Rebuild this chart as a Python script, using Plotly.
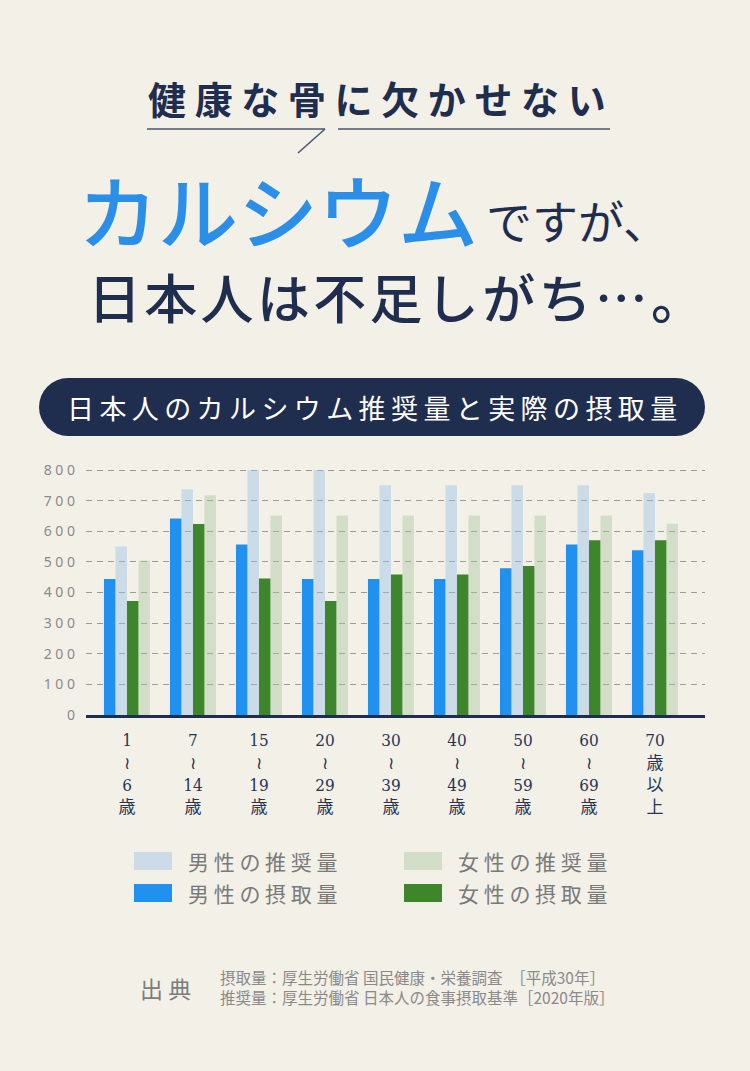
import plotly.graph_objects as go

# ---- data ----
age_groups = ["1<br>≀<br>6<br>歳", "7<br>≀<br>14<br>歳", "15<br>≀<br>19<br>歳",
              "20<br>≀<br>29<br>歳", "30<br>≀<br>39<br>歳", "40<br>≀<br>49<br>歳",
              "50<br>≀<br>59<br>歳", "60<br>≀<br>69<br>歳", "70<br>歳<br>以<br>上"]
male_intake = [444, 642, 557, 444, 444, 444, 479, 557, 538]
male_recommended = [550, 737.5, 800, 800, 750, 750, 750, 750, 725]
female_intake = [372, 624, 446, 372, 459, 459, 487, 571, 571]
female_recommended = [505, 718, 652, 652, 652, 652, 652, 652, 625]
ytick_vals = [0, 100, 200, 300, 400, 500, 600, 700, 800]

series_names = ["男性の摂取量", "男性の推奨量", "女性の摂取量", "女性の推奨量"]
series_colors = ["#2191f0", "rgba(148,192,232,0.42)", "#3e862c", "rgba(166,198,155,0.42)"]

NAVY = "#1f2d4e"
JP = "Noto Sans CJK JP"

# plot area in pixels
W, H = 750, 1071
L, R = 86, 705
TOP, BOT = 467, 715
PW, PH = R - L, BOT - TOP


def pxx(x):
    return (x - L) / PW


def pxy(y):
    return (BOT - y) / PH


def spaced(s, gap=" "):
    return gap.join(list(s))


fig = go.Figure()
for name, vals, col in zip(series_names,
                           [male_intake, male_recommended, female_intake, female_recommended],
                           series_colors):
    fig.add_trace(go.Bar(x=age_groups, y=vals, name=name,
                         marker=dict(color=col, line=dict(width=0)),
                         showlegend=False))

shapes = []
annotations = []

# headline
annotations.append(dict(x=pxx(377), y=pxy(97), text=spaced("健康な骨に欠かせない"),
                        font=dict(family=JP, size=38, color=NAVY, weight=700)))
line_style = dict(color="#48556e", width=1.5)
shapes.append(dict(type="line", xref="paper", yref="paper", x0=pxx(147), x1=pxx(325),
                   y0=pxy(129), y1=pxy(129), line=line_style))
shapes.append(dict(type="line", xref="paper", yref="paper", x0=pxx(325), x1=pxx(298),
                   y0=pxy(129), y1=pxy(153), line=line_style))
shapes.append(dict(type="line", xref="paper", yref="paper", x0=pxx(338), x1=pxx(610),
                   y0=pxy(129), y1=pxy(129), line=line_style))

annotations.append(dict(x=pxx(76), y=pxy(208), xanchor="left", text="カルシウム",
                        font=dict(family=JP, size=80, color="#2b8fe9", weight=500)))
annotations.append(dict(x=pxx(484), y=pxy(219), xanchor="left", text="ですが、",
                        font=dict(family=JP, size=46, color=NAVY)))
annotations.append(dict(x=pxx(86), y=pxy(296), xanchor="left",
                        text=spaced("日本人は不足しがち…。", "\u200a"),
                        font=dict(family=JP, size=53, color=NAVY, weight=500)))

# banner
shapes.append(dict(type="rect", xref="paper", yref="paper", x0=pxx(68), x1=pxx(676),
                   y0=pxy(378), y1=pxy(436), fillcolor=NAVY, line=dict(width=0)))
for cx in (68, 676):
    shapes.append(dict(type="circle", xref="paper", yref="paper", x0=pxx(cx - 29), x1=pxx(cx + 29),
                       y0=pxy(378), y1=pxy(436), fillcolor=NAVY, line=dict(width=0)))
annotations.append(dict(x=pxx(372), y=pxy(407),
                        text=spaced("日本人のカルシウム推奨量と実際の摂取量", "\u2009"),
                        font=dict(family=JP, size=27, color="white")))

# legend (manual, 2 columns)
legend_pos = {"男性の推奨量": (134, 861), "女性の推奨量": (404, 861),
              "男性の摂取量": (134, 893), "女性の摂取量": (404, 893)}
for name, col in zip(series_names, series_colors):
    lx, ly = legend_pos[name]
    shapes.append(dict(type="rect", xref="paper", yref="paper", x0=pxx(lx), x1=pxx(lx + 38),
                       y0=pxy(ly - 9), y1=pxy(ly + 9), fillcolor=col, line=dict(width=0)))
    annotations.append(dict(x=pxx(lx + 52), y=pxy(ly), xanchor="left", text=spaced(name),
                            font=dict(family=JP, size=21, color="#7a7a7a")))

# source
annotations.append(dict(x=pxx(138), y=pxy(988), xanchor="left", text="出 典",
                        font=dict(family=JP, size=23, color="#7d7d7d")))
annotations.append(dict(x=pxx(218), y=pxy(987), xanchor="left", align="left",
                        text="摂取量：厚生労働省 国民健康・栄養調査　［平成30年］<br>"
                             "推奨量：厚生労働省 日本人の食事摂取基準［2020年版］",
                        font=dict(family=JP, size=15.5, color="#8a8a8a")))

for a in annotations:
    a.setdefault("xref", "paper")
    a.setdefault("yref", "paper")
    a.setdefault("xanchor", "center")
    a.setdefault("yanchor", "middle")
    a.setdefault("showarrow", False)

fig.update_layout(
    width=W, height=H,
    margin=dict(l=L, r=W - R, t=TOP, b=H - BOT, pad=0),
    paper_bgcolor="#f3f0e8", plot_bgcolor="rgba(0,0,0,0)",
    barmode="group", bargap=0.303, bargroupgap=0,
    shapes=shapes, annotations=annotations,
    xaxis=dict(range=[-0.621, 8.758], showline=True, linecolor=NAVY, linewidth=3,
               ticks="", showgrid=False, ticklabelstandoff=8,
               tickfont=dict(family="DejaVu Serif Condensed, " + JP, size=17, color="#26355a")),
    yaxis=dict(range=[0, 810], tickvals=ytick_vals,
               ticktext=[spaced(str(v)) for v in ytick_vals],
               showgrid=True, gridcolor="#9c9c9c", gridwidth=1, griddash="6px,5px",
               zeroline=False, ticks="", ticklabelstandoff=10,
               tickfont=dict(family="Noto Sans", size=14, color="#8a8a8a")),
)

fig.write_html("out.html", config={"displayModeBar": False},
               post_script="document.body.style.margin='0';")
